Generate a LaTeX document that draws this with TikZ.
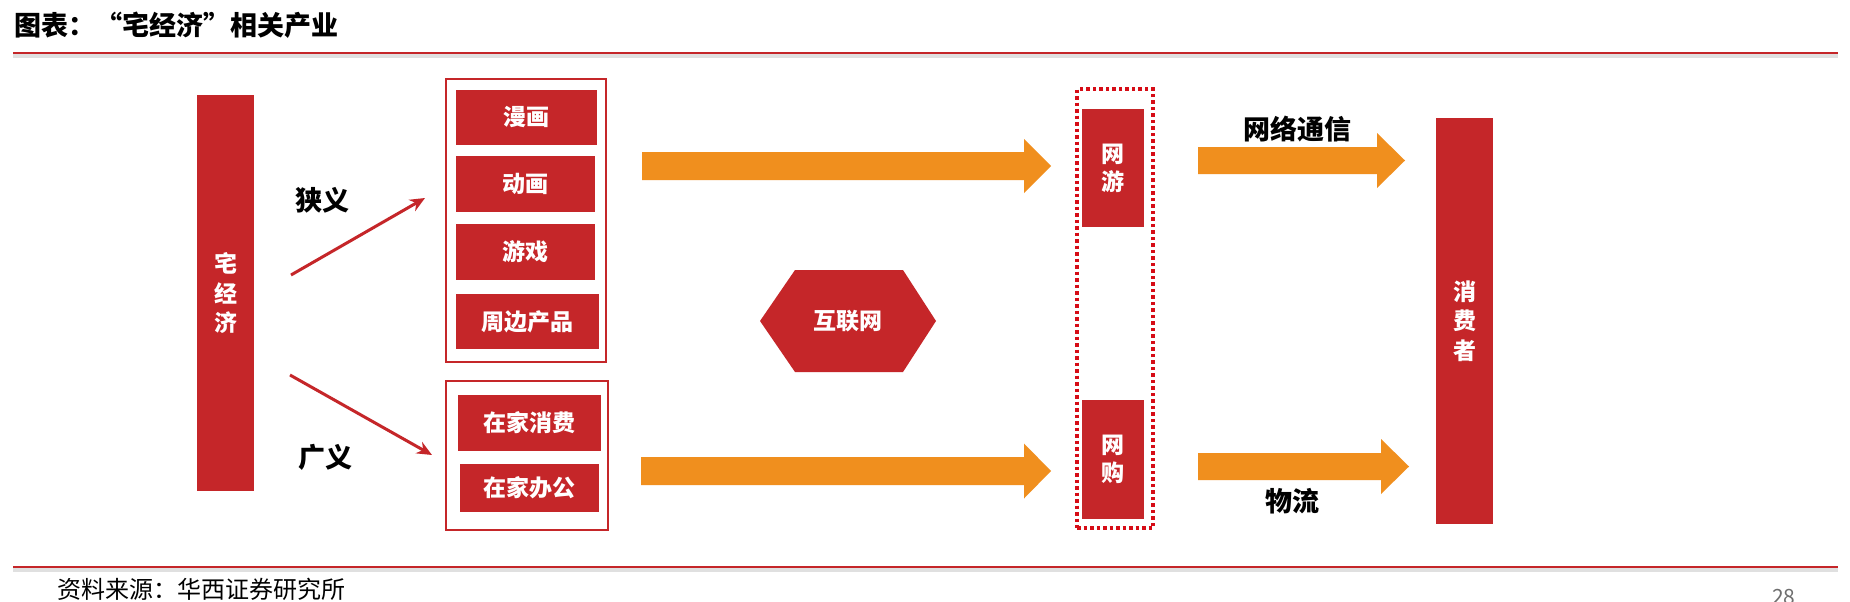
\documentclass[tikz,border=0pt]{standalone}
\usepackage{fontspec}
\setmainfont{Noto Sans CJK SC}
\usetikzlibrary{arrows.meta}
\definecolor{bred}{RGB}{197,38,41}
\definecolor{borange}{RGB}{240,143,30}
\definecolor{dred}{RGB}{214,12,22}
\definecolor{pgray}{RGB}{110,110,110}
\newcommand\blockarr[6]{\fill[borange] (#1,#4-#5) -- (#2,#4-#5) -- (#2,#4-#6) -- (#3,#4) -- (#2,#4+#6) -- (#2,#4+#5) -- (#1,#4+#5) -- cycle;}
\tikzset{
  redbox/.style={fill=bred, draw=none, text=white, inner sep=0pt,
    font=\fontsize{23}{28}\selectfont\bfseries},
  vbar/.style={fill=bred, draw=none, text=white, inner sep=0pt, align=center,
    font=\fontsize{23}{29.5}\selectfont\bfseries},
  outerbox/.style={draw=bred, line width=1.3pt, fill=none, inner sep=0pt},
  lbl/.style={text=black, inner sep=0pt, font=\fontsize{27}{30}\selectfont\bfseries},
  redarrow/.style={draw=bred, line width=3pt, -{Stealth[length=15pt,width=13pt]}},
}
\begin{document}
\begin{tikzpicture}[x=1pt,y=-1pt]
\useasboundingbox (0,0) rectangle (1850,602);
\fill[white] (0,0) rectangle (1850,602);
% title and rules
\node[anchor=west, inner sep=0pt, font=\fontsize{27}{30}\selectfont\bfseries] (title) at (14,25.5) {图表：“宅经济”相关产业};
\fill[black!12] (13,54) rectangle (1838,58);
\draw[bred, line width=1.6pt] (13,53) -- (1838,53);
\fill[black!12] (13,568) rectangle (1838,572);
\draw[bred, line width=1.6pt] (13,567) -- (1838,567);
\node[anchor=west, inner sep=0pt, font=\fontsize{24}{28}\selectfont] (src) at (57,589) {资料来源：华西证券研究所};
\node[anchor=west, inner sep=0pt, text=pgray, font=\fontsize{21}{24}\selectfont] (page) at (1772,597) {28};

% left bar
\node[vbar, minimum width=57pt, minimum height=396pt] (zhai) at (225.5,293) {宅\\经\\济};

% narrow group
\node[outerbox, minimum width=160pt, minimum height=283pt] (box1) at (526,220.5) {};
\node[redbox, minimum width=141pt, minimum height=55pt] (manhua) at (526.5,117.5) {漫画};
\node[redbox, minimum width=139pt, minimum height=56pt] (donghua) at (525.5,184) {动画};
\node[redbox, minimum width=139pt, minimum height=56pt] (youxi) at (525.5,252) {游戏};
\node[redbox, minimum width=143pt, minimum height=55pt] (zhoubian) at (527.5,321.5) {周边产品};

% broad group
\node[outerbox, minimum width=162pt, minimum height=149pt] (box2) at (527,455.5) {};
\node[redbox, minimum width=143pt, minimum height=56pt] (zjxf) at (529.5,423) {在家消费};
\node[redbox, minimum width=139pt, minimum height=48pt] (zjbg) at (529.5,488) {在家办公};

% labels and red arrows
\node[lbl] (xiayi) at (322,200) {狭义};
\node[lbl] (guangyi) at (325,457) {广义};
\coordinate (a1s) at (291,275);
\coordinate (a1e) at (425,198);
\coordinate (a2s) at (290,375);
\coordinate (a2e) at (432,455);
\draw[redarrow] (a1s) -- (a1e);
\draw[redarrow] (a2s) -- (a2e);

% hexagon
\fill[bred] (760,321) -- (795,270) -- (903,270) -- (936,321) -- (903,372) -- (795,372) -- cycle;
\node[redbox, fill=none] (hex) at (848,321) {互联网};

% orange block arrows
\blockarr{642}{1024}{1051}{166}{14}{27}
\blockarr{641}{1024}{1051}{471}{14}{27.5}
\blockarr{1198}{1377}{1405}{160.5}{13.5}{27.5}
\blockarr{1198}{1381}{1409}{466.5}{13.5}{27.5}

% dotted column
\node[draw=dred, line width=3.5pt, dash pattern=on 3.5pt off 3pt, minimum width=76pt, minimum height=439pt, inner sep=0pt] (dotbox) at (1115,308.5) {};
\node[vbar, font=\fontsize{23}{28}\selectfont\bfseries, minimum width=62pt, minimum height=118pt] (wangyou) at (1113,168) {网\\游};
\node[vbar, font=\fontsize{23}{28}\selectfont\bfseries, minimum width=62pt, minimum height=119pt] (wanggou) at (1113,459.5) {网\\购};

% right labels
\node[lbl] (tongxin) at (1297,129) {网络通信};
\node[lbl] (wuliu) at (1292,501) {物流};

% consumer bar
\node[vbar, minimum width=57pt, minimum height=406pt] (xfz) at (1464.5,321) {消\\费\\者};
\end{tikzpicture}
\end{document}
